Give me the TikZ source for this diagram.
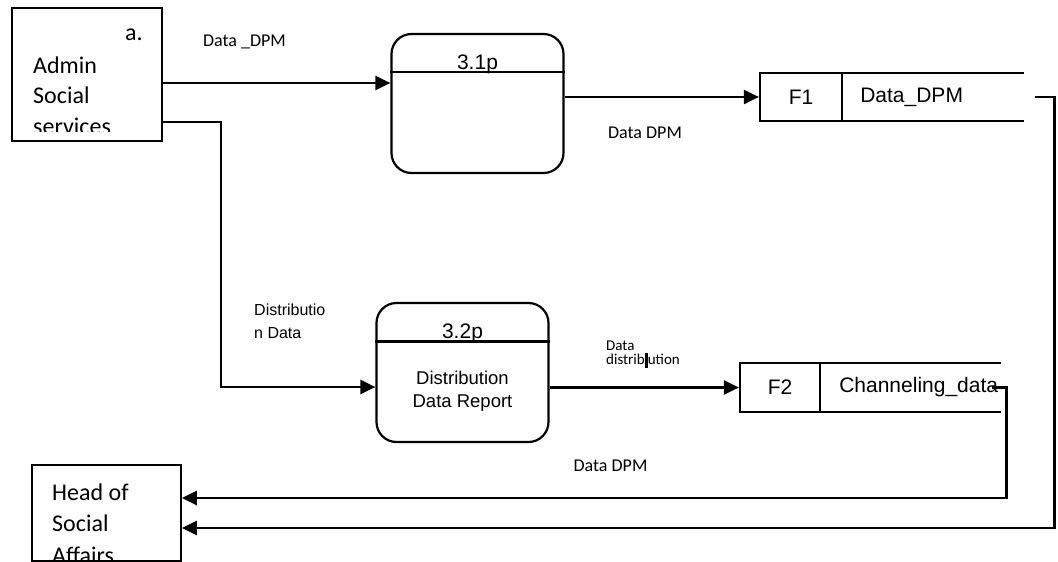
\documentclass[tikz,border=0pt]{standalone}
\usepackage{fontspec}
\setmainfont{Carlito}
\newfontfamily\arialfont{Liberation Sans}
\usetikzlibrary{positioning,arrows.meta}

\tikzset{
  entity/.style={draw, line width=1.8pt, minimum width=150pt, minimum height=133pt, inner sep=0pt},
  process/.style={draw, line width=2.2pt, rounded corners=20pt, minimum width=172pt, minimum height=139pt, inner sep=0pt},
  storeid/.style={draw, line width=2.2pt, minimum width=82pt, minimum height=48pt, inner sep=0pt, font=\arialfont\fontsize{21}{25}\selectfont},
  storename/.style={minimum width=180pt, minimum height=48pt, inner ysep=0pt, inner xsep=17pt, text width=146pt, align=left, font=\arialfont\fontsize{21}{25}\selectfont},
  ptext/.style={inner sep=0pt, font=\arialfont\fontsize{21}{25}\selectfont},
  flow/.style={line width=2.5pt, -{Triangle[length=15pt,width=14pt]}},
  lbl/.style={inner sep=0pt, font=\fontsize{18}{21}\selectfont},
}

\begin{document}
\begin{tikzpicture}[x=1pt, y=-1pt]
      \fill[white] (0,0) rectangle (1058,562);
      \useasboundingbox (0,0) rectangle (1058,562);
      % Define nodes
      \node[entity] (admin) at (87,74.5) {};
      \node[entity, minimum width=149pt, minimum height=96pt] (head) at (106.5,513) {};
      \node[process] (p1) at (477.5,103.5) {};
      \node[process] (p2) at (462.5,372.5) {};
      \node[storeid] (f1) at (801,97) {F1};
      \node[storename, right=0pt of f1] (f1n) {\mbox{Data\_DPM}};
      \node[storeid, minimum width=80pt, minimum height=49pt] (f2) at (780,387.5) {F2};
      \node[storename, minimum width=179pt, minimum height=49pt, inner xsep=18pt, text width=143pt, right=0pt of f2] (f2n) {\mbox{Channeling\_data}};
      \draw[line width=1.5pt] (f1n.north west) -- (f1n.north east) (f1n.south west) -- (f1n.south east);
      \draw[line width=1.5pt] (f2n.north west) -- (f2n.north east) (f2n.south west) -- (f2n.south east);
      \draw[line width=2.2pt] ([yshift=-39pt]p1.north west) -- ([yshift=-39pt]p1.north east);
      \draw[line width=2.2pt] ([yshift=-39.5pt]p2.north west) -- ([yshift=-39.5pt]p2.north east);
      \node[ptext, anchor=base] (p1id) at ([yshift=-37pt]p1.north) {3.1p};
      \node[ptext, anchor=base] (p2id) at ([yshift=-37pt]p2.north) {3.2p};
      \node[ptext, align=center, font=\arialfont\fontsize{18.5}{23}\selectfont] (p2txt) at ([yshift=-19pt]p2.center) {Distribution\\Data Report};
      \begin{scope}
        \clip (admin.north west) rectangle ([yshift=10.5pt]admin.south east);
        \node[anchor=north west, align=left, inner sep=0pt, font=\fontsize{24}{30.5}\selectfont] (admintxt) at (33,56.5) {Admin\\Social\\services};
      \end{scope}
      \node[anchor=base west, inner sep=0pt, font=\fontsize{24}{28}\selectfont] (atag) at (125,40.5) {a.};
      \node[anchor=north west, align=left, inner sep=0pt, font=\fontsize{24}{31.5}\selectfont] (headtxt) at (52,483.5) {Head of\\Social\\Affairs};
      \node[lbl] (l1) at (244.5,42) {Data \_DPM};
      \node[lbl] (l2) at (645,133) {Data DPM};
      \node[lbl, anchor=west, align=left, font=\arialfont\fontsize{16}{23}\selectfont] (l3) at (254,321.5) {Distributio\\n Data};
      \node[lbl, anchor=west, align=left, font=\fontsize{15}{14.5}\selectfont] (l4) at (606,354) {Data\\distrib\rule[-3pt]{3pt}{15pt}ution};
      \node[lbl] (l5) at (610.5,466) {Data DPM};
      % Connect nodes
      \draw[flow] (admin.east |- 0,83) -- (p1.west |- 0,83);
      \draw[flow] (admin.east |- 0,122) -- (221,122) |- (p2.west |- 0,387);
      \draw[flow] (p1.east |- f1) -- (f1);
      \draw[flow] (p2.east |- f2) -- (f2);
      \draw[flow] ([xshift=11pt]f1n.east) -- ++(20,0) |- ([yshift=-15pt]head.east);
      \draw[flow] ([xshift=-9pt]f2n.east) -- ++(15,0) |- ([yshift=15pt]head.east);
\end{tikzpicture}
\end{document}
